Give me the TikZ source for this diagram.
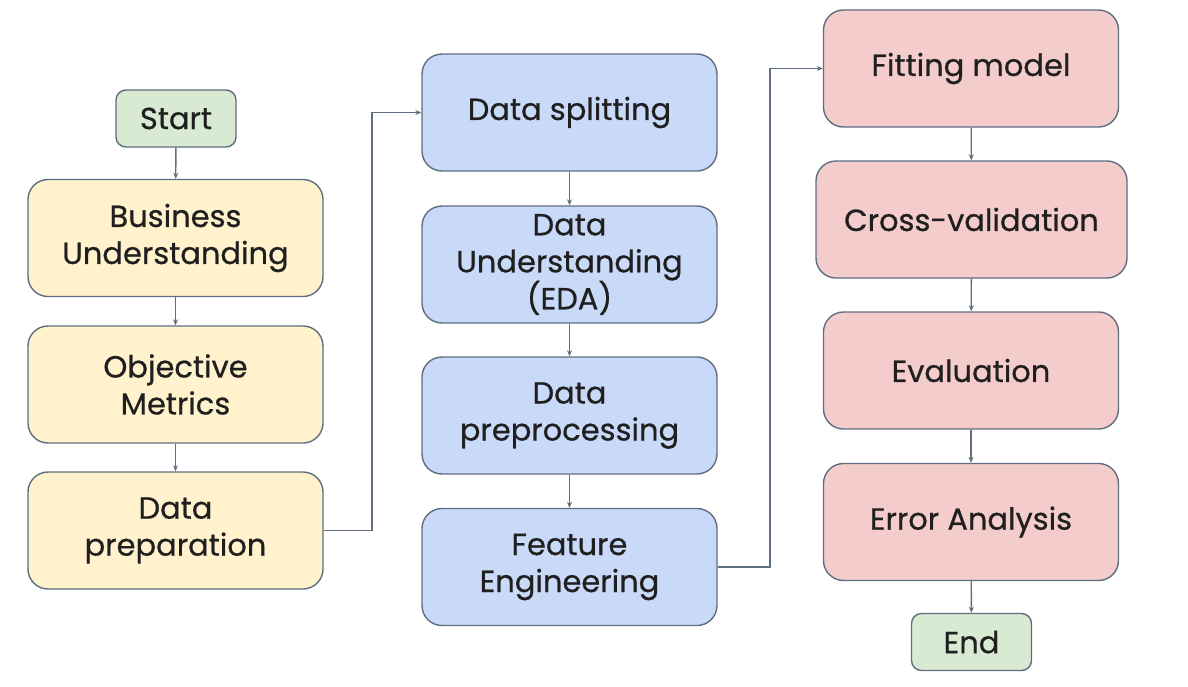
\documentclass[tikz,border=0pt]{standalone}
\usepackage{fontspec}
\setmainfont{Poppins}
\newfontfamily\boxfont{Poppins}[FakeBold=0.6]
\usetikzlibrary{arrows.meta}
\definecolor{bord}{HTML}{5E6E80}
\definecolor{gfill}{HTML}{D9EAD3}
\definecolor{yfill}{HTML}{FFF2CC}
\definecolor{bfill}{HTML}{C9DAF8}
\definecolor{rfill}{HTML}{F4CCCC}
\begin{document}
\begin{tikzpicture}[x=1pt,y=-1pt,
  box/.style={draw=bord, line width=1.4pt, rounded corners=20pt, align=center,
    minimum width=295pt, minimum height=117pt, inner sep=0pt,
    font=\boxfont\fontsize{30.5}{37}\selectfont, text=black!88},
  term/.style={box, fill=gfill, rounded corners=10pt, minimum width=120pt, minimum height=57pt},
  ybox/.style={box, fill=yfill},
  bbox/.style={box, fill=bfill},
  rbox/.style={box, fill=rfill},
  conn/.style={draw=bord, line width=1.4pt, -{Stealth[length=6pt,width=5pt]}}
]
\useasboundingbox (0,0) rectangle (1188,686);
\node[term] (start) at (176,118.5) {Start};
\node[ybox] (bu) at (175.5,238) {Business\\Understanding};
\node[ybox] (om) at (175.5,384.5) {Objective\\Metrics};
\node[ybox] (dp) at (175.5,530.5) {Data\\preparation};
\node[bbox] (ds) at (569.5,112.5) {Data splitting};
\node[bbox] (du) at (569.5,264.5) {Data\\Understanding\\(EDA)};
\node[bbox] (dpp) at (569.5,415.5) {Data\\preprocessing};
\node[bbox] (fe) at (569.5,567) {Feature\\Engineering};
\node[rbox] (fm) at (971,68.5) {Fitting model};
\node[rbox, minimum width=311pt] (cv) at (971.5,219.5) {Cross-validation};
\node[rbox] (ev) at (971,370.5) {Evaluation};
\node[rbox] (ea) at (971,522) {Error Analysis};
\node[term] (end) at (971.5,642) {End};
\draw[conn] (start) -- (bu);
\draw[conn] (bu) -- (om);
\draw[conn] (om) -- (dp);
\draw[conn] (dp.east) -- (372,530.5) |- (ds.west);
\draw[conn] (ds) -- (du);
\draw[conn] (du) -- (dpp);
\draw[conn] (dpp) -- (fe);
\draw[conn] (fe.east) -- (770,567) |- (fm.west);
\draw[conn] (fm) -- (cv);
\draw[conn] (cv) -- (ev);
\draw[conn] (ev) -- (ea);
\draw[conn] (ea) -- (end);
\end{tikzpicture}
\end{document}
